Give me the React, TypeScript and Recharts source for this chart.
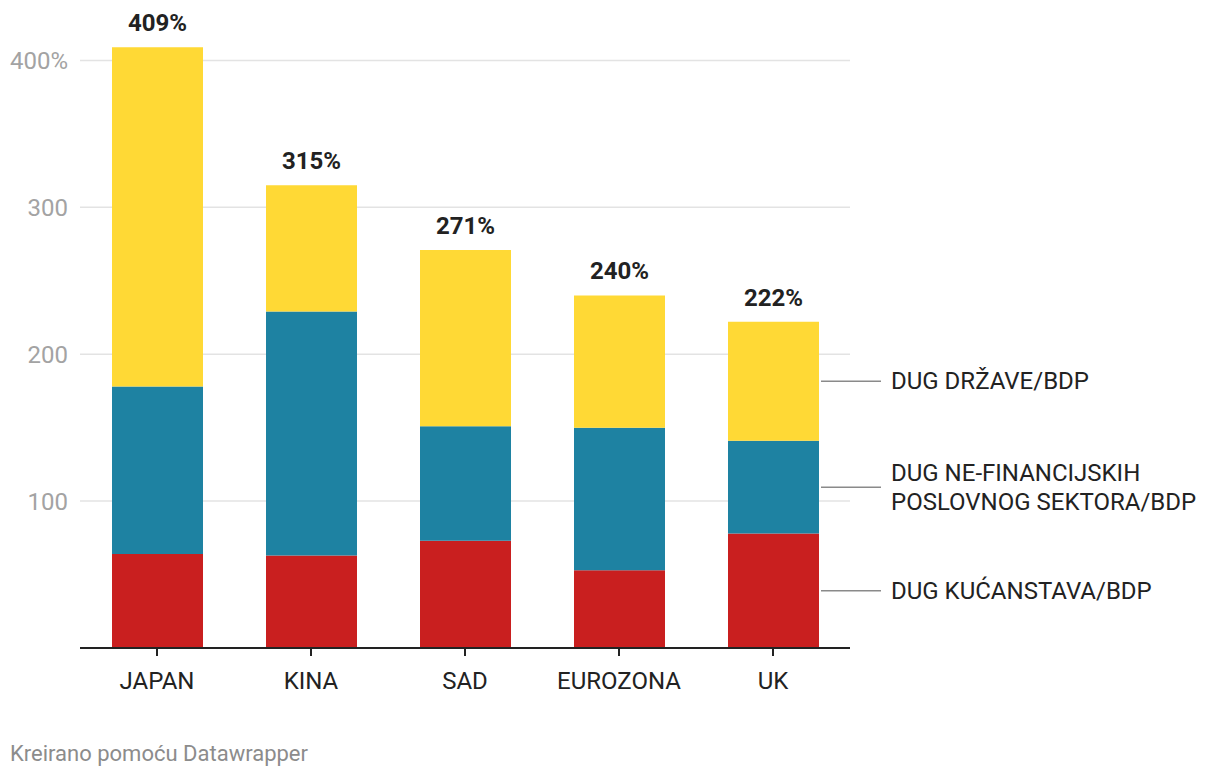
import { BarChart, Bar, XAxis, YAxis, CartesianGrid, LabelList } from "recharts";

const countries = ["JAPAN", "KINA", "SAD", "EUROZONA", "UK"];
const households = [64, 63, 73, 53, 78];
const business = [114, 166, 78, 97, 63];
const government = [231, 86, 120, 90, 81];
const totals = [409, 315, 271, 240, 222];
const yTicks = [0, 100, 200, 300, 400];
const gridValues = [100, 200, 300, 400];

const householdsLabel = ["DUG KUĆANSTAVA/BDP"];
const businessLabel = ["DUG NE-FINANCIJSKIH", "POSLOVNOG SEKTORA/BDP"];
const governmentLabel = ["DUG DRŽAVE/BDP"];

const data = countries.map((country, i) => ({
  country,
  households: households[i],
  business: business[i],
  government: government[i],
  total: totals[i],
}));

const FONT = "Roboto, 'Noto Sans', sans-serif";

// label pointing at the last bar's segment, drawn in the right margin
const sideLabel = (lines: string[]) => (props: any) => {
  const box = props.viewBox || props;
  const { x, y, width, height } = box;
  if (props.index !== countries.length - 1) return null;
  const cy = y + height / 2;
  const lx = x + width;
  const lineGap = 29;
  const start = cy - ((lines.length - 1) * lineGap) / 2;
  return (
    <g>
      <line x1={lx + 2} x2={lx + 62} y1={cy} y2={cy} stroke="#8a8a8a" strokeWidth={1.5} />
      {lines.map((l, i) => (
        <text
          key={i}
          x={lx + 72}
          y={start + i * lineGap}
          fontSize={24}
          fill="#222"
          dominantBaseline="central"
          fontFamily={FONT}
        >
          {l}
        </text>
      ))}
    </g>
  );
};

const totalLabel = (props: any) => {
  const box = props.viewBox || props;
  const { x, y, width } = box;
  const t = totals[props.index];
  if (t === undefined) return null;
  return (
    <text
      x={x + width / 2}
      y={y - 16}
      textAnchor="middle"
      fontSize={24}
      fontWeight={700}
      fill="#222"
      fontFamily={FONT}
    >
      {t}%
    </text>
  );
};

export default function App() {
  return (
    <div style={{ position: "relative", width: 1220, height: 778, fontFamily: FONT, background: "#fff" }}>
      <style>{"body{margin:0}"}</style>
      <BarChart
        width={1220}
        height={778}
        data={data}
        margin={{ top: 31, right: 370, bottom: 100, left: 0 }}
      >
        <CartesianGrid
          vertical={false}
          horizontalValues={gridValues}
          stroke="#e3e3e3"
          strokeWidth={1.5}
        />
        <XAxis
          dataKey="country"
          height={30}
          axisLine={{ stroke: "#222", strokeWidth: 2 }}
          tickLine={{ stroke: "#222", strokeWidth: 2 }}
          tickSize={8}
          tickMargin={16}
          tick={{ fill: "#222", fontSize: 24 }}
        />
        <YAxis
          width={80}
          domain={[0, 420]}
          ticks={yTicks}
          axisLine={false}
          tickLine={false}
          tickMargin={6}
          tick={{ fill: "#a3a3a3", fontSize: 24 }}
          tickFormatter={(v: number) => (v === 0 ? "" : v === 400 ? `${v}%` : `${v}`)}
        />
        <Bar dataKey="households" stackId="a" fill="#c91f1f" barSize={91} isAnimationActive={false}>
          <LabelList dataKey="households" content={sideLabel(householdsLabel)} />
        </Bar>
        <Bar dataKey="business" stackId="a" fill="#1e82a2" barSize={91} isAnimationActive={false}>
          <LabelList dataKey="business" content={sideLabel(businessLabel)} />
        </Bar>
        <Bar dataKey="government" stackId="a" fill="#ffd935" barSize={91} isAnimationActive={false}>
          <LabelList dataKey="government" content={sideLabel(governmentLabel)} />
          <LabelList dataKey="total" content={totalLabel} />
        </Bar>
      </BarChart>
      <div style={{ position: "absolute", left: 10, top: 741, fontSize: 22, color: "#8c8c8c" }}>
        Kreirano pomoću Datawrapper
      </div>
    </div>
  );
}
